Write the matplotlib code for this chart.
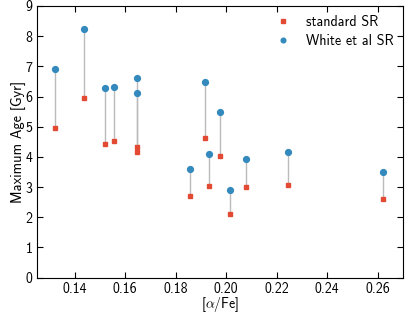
import numpy as np
import matplotlib
matplotlib.use('Agg')
import matplotlib.pyplot as plt

plt.rcParams['font.family'] = ['cmss10', 'DejaVu Sans']
plt.rcParams['mathtext.fontset'] = 'cm'
plt.rcParams['axes.unicode_minus'] = False
plt.rcParams['font.size'] = 10

alphaFe = [0.1323, 0.1437, 0.1518, 0.1557, 0.1647, 0.1647, 0.1855, 0.1917,
           0.1931, 0.1974, 0.2015, 0.2079, 0.2244, 0.2621]
ageStandard = [4.95, 5.94, 4.42, 4.53, 4.34, 4.16, 2.72, 4.64,
               3.05, 4.03, 2.12, 3.00, 3.07, 2.62]
ageWhite = [6.91, 8.22, 6.27, 6.32, 6.61, 6.11, 3.61, 6.47,
            4.11, 5.50, 2.89, 3.92, 4.15, 3.50]

fig, ax = plt.subplots(figsize=(4.15, 3.12), dpi=100)
fig.subplots_adjust(left=0.089, right=0.971, top=0.981, bottom=0.11)

for x, a, b in zip(alphaFe, ageStandard, ageWhite):
    ax.plot([x, x], [a, b], color='#bbbbbb', linewidth=1, zorder=1)
ax.plot(alphaFe, ageStandard, 's', color='#E24A33', markersize=3.4, label='standard SR', zorder=3)
ax.plot(alphaFe, ageWhite, 'o', color='#348ABD', markersize=4.2, label='White et al SR', zorder=3)

ax.set_xlim(0.125, 0.27)
ax.set_ylim(0, 9)
ax.set_xticks([0.14, 0.16, 0.18, 0.20, 0.22, 0.24, 0.26])
ax.set_xticklabels(['0.14', '0.16', '0.18', '0.20', '0.22', '0.24', '0.26'])
ax.set_yticks(range(10))
ax.tick_params(direction='in', top=True, right=True, length=4, width=0.8, pad=3, labelsize=10)
ax.set_xlabel(r'[$\alpha$/Fe]', fontsize=10, labelpad=0)
ax.set_ylabel('Maximum Age [Gyr]', fontsize=10.4, labelpad=0)
ax.legend(loc='upper right', frameon=False, fontsize=10.2, markerscale=0.8, handlelength=1.0,
          handletextpad=1.15, borderpad=0.3, borderaxespad=0.35, labelspacing=0.35)

fig.savefig('out.png', dpi=100)
